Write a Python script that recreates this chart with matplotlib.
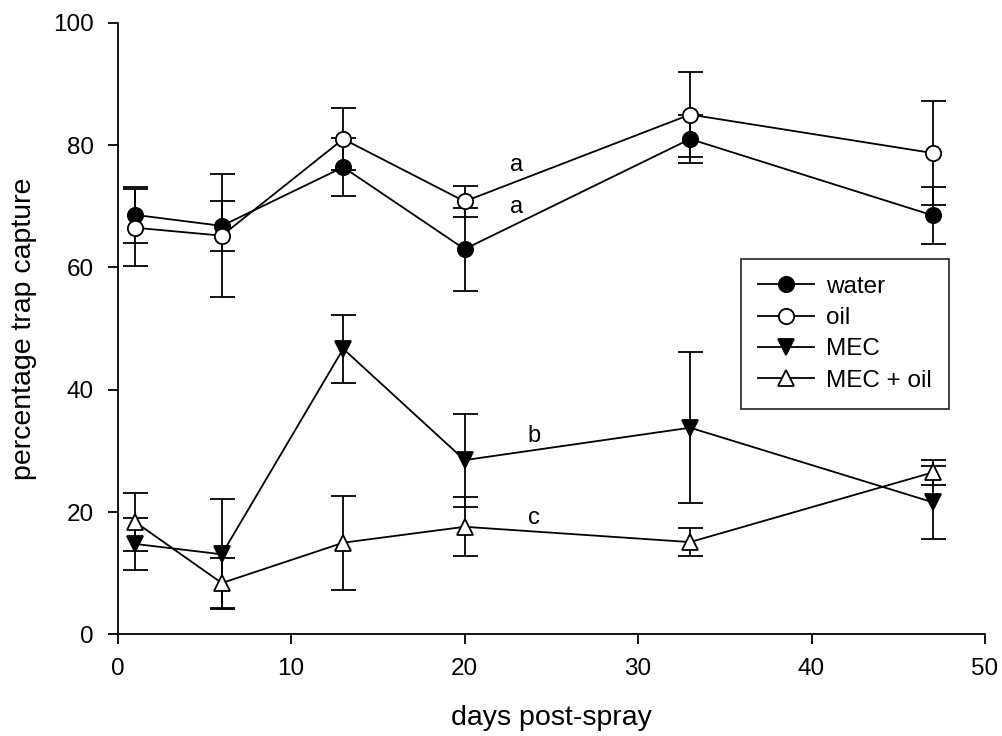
import matplotlib
matplotlib.use("Agg")
import matplotlib.pyplot as plt
from matplotlib.lines import Line2D

plt.rcParams['font.family'] = ['Liberation Sans', 'DejaVu Sans']

days = [1, 6, 13, 20, 33, 47]

water = [68.6, 66.8, 76.4, 63.0, 81.0, 68.5]
water_err = [4.6, 4.1, 4.7, 6.8, 4.0, 4.7]

oil = [66.5, 65.2, 81.0, 70.8, 85.0, 78.7]
oil_err = [6.3, 10.0, 5.0, 2.5, 7.0, 8.5]

mec = [14.8, 13.1, 46.7, 28.5, 33.8, 21.6]
mec_err = [4.2, 9.0, 5.6, 7.6, 12.3, 6.0]

mec_oil = [18.4, 8.4, 15.0, 17.6, 15.1, 26.5]
mec_oil_err = [4.8, 4.1, 7.7, 4.8, 2.3, 2.1]

letters = [(23, 76.8, 'a'), (23, 69.9, 'a'), (24, 32.4, 'b'), (24, 19.1, 'c')]

series = [
    ('water', water, water_err, 'o', 'black'),
    ('oil', oil, oil_err, 'o', 'white'),
    ('MEC', mec, mec_err, 'v', 'black'),
    ('MEC + oil', mec_oil, mec_oil_err, '^', 'white'),
]

fig = plt.figure(figsize=(10.02, 7.36), dpi=100)
ax = fig.add_axes([0.1175, 0.138, 0.8655, 0.831])

handles = []
for name, vals, err, mk, fc in series:
    ax.errorbar(days, vals, yerr=err, marker=mk, markerfacecolor=fc,
                color='black', lw=1.3, elinewidth=1.3, capsize=9, capthick=1.3,
                markersize=11, markeredgecolor='black', markeredgewidth=1.3)
    handles.append(Line2D([], [], color='black', lw=1.3, marker=mk,
                          markerfacecolor=fc, markeredgecolor='black',
                          markersize=11, markeredgewidth=1.3, label=name))

for x, y, s in letters:
    ax.text(x, y, s, fontsize=17, ha='center', va='center')

ax.set_xlim(0, 50)
ax.set_ylim(0, 100)
ax.set_xticks([0, 10, 20, 30, 40, 50])
ax.set_yticks([0, 20, 40, 60, 80, 100])
ax.tick_params(direction='out', length=7, width=1.3, labelsize=17.5, pad=10)
for sp in ['top', 'right']:
    ax.spines[sp].set_visible(False)
for sp in ['left', 'bottom']:
    ax.spines[sp].set_linewidth(1.3)

ax.set_xlabel('days post-spray', fontsize=20.5, labelpad=18)
ax.set_ylabel('percentage trap capture', fontsize=20.5, labelpad=12)

leg = ax.legend(handles=handles, loc='upper left', bbox_to_anchor=(0.719, 0.614),
                fontsize=17.5, frameon=True, fancybox=False, edgecolor='black',
                handlelength=2.3, borderpad=0.7, labelspacing=0.38,
                handletextpad=0.5, borderaxespad=0)
leg.get_frame().set_linewidth(1.3)

fig.savefig('out.png', dpi=100)
